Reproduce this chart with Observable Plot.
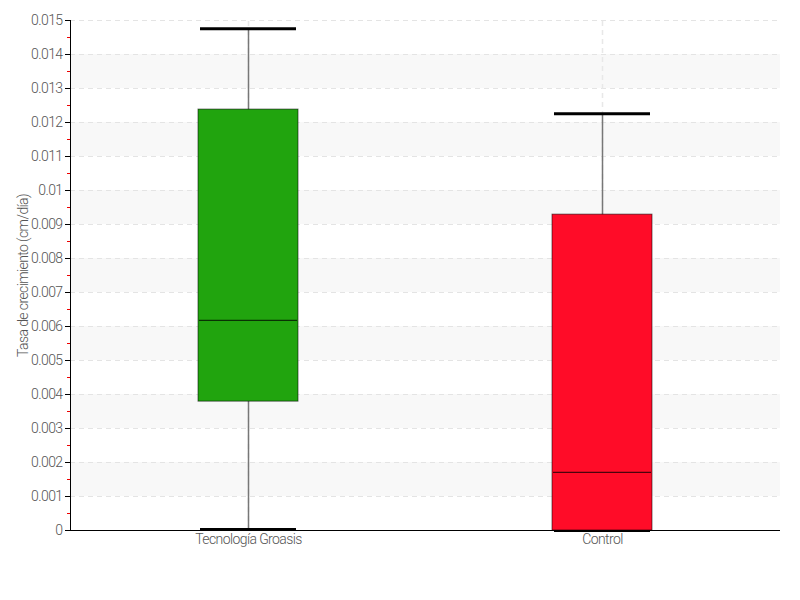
<!DOCTYPE html>
<html>
<head>
<meta charset="utf-8">
<script src="https://cdn.jsdelivr.net/npm/d3@7"></script>
<script src="https://cdn.jsdelivr.net/npm/@observablehq/plot@0.6"></script>
<style>
  html, body { margin: 0; padding: 0; background: #fff; }
  #chart { width: 800px; height: 600px; }
  #chart svg text { letter-spacing: -0.6px; }
</style>
</head>
<body>
<div id="chart"></div>
<script>
const categories = ["Tecnología Groasis", "Control"];
const whiskerLow = [0.00003, 0];
const q1 = [0.00379, 0];
const median = [0.00618, 0.00171];
const q3 = [0.01238, 0.00929];
const whiskerHigh = [0.01476, 0.01226];
const colors = ["#21a40e", "#ff0c28"];
const tickLabels = ["0", "0.001", "0.002", "0.003", "0.004", "0.005", "0.006", "0.007", "0.008", "0.009", "0.01", "0.011", "0.012", "0.013", "0.014", "0.015"];
const yLabel = "Tasa de crecimiento (cm/día)";

const ticks = tickLabels.map(Number);
const minorTicks = ticks.slice(0, -1).map((t, i) => (t + ticks[i + 1]) / 2);
const bands = ticks.slice(0, -1).map((t, i) => ({y1: t, y2: ticks[i + 1]}))
  .filter(d => (Math.round(d.y1 * 1000) % 2) === 1);
const boxes = categories.map((c, i) => ({
  cat: c, lo: whiskerLow[i], q1: q1[i], med: median[i], q3: q3[i], hi: whiskerHigh[i], color: colors[i]
}));
const caps = boxes.flatMap(d => [{cat: d.cat, v: d.lo}, {cat: d.cat, v: d.hi}]);

const font = "Roboto, 'Liberation Sans', sans-serif";

const chart = Plot.plot({
  width: 800,
  height: 600,
  marginLeft: 70,
  marginRight: 20,
  marginTop: 20,
  marginBottom: 70,
  style: {fontFamily: font, fontSize: "14px", fontWeight: 300, color: "#555", background: "#fff"},
  x: {domain: categories, paddingInner: 0.7183, paddingOuter: 0.3592, axis: null},
  y: {domain: [0, 0.015], axis: null},
  color: {type: "identity"},
  marks: [
    Plot.rectY(bands, {y1: "y1", y2: "y2", fill: "#f8f8f8"}),
    Plot.ruleY(ticks, {stroke: "#e4e4e4", strokeDasharray: "5,4"}),
    Plot.ruleX(categories, {x: d => d, y1: 0, y2: 0.015, stroke: "#e8e8e8", strokeDasharray: "5,4", strokeWidth: 1.5}),
    Plot.ruleX(boxes, {x: "cat", y1: "lo", y2: "hi", stroke: "#777", strokeWidth: 1.5}),
    Plot.tickY(caps, {x: "cat", y: "v", stroke: "#000", strokeWidth: 3, insetLeft: 2, insetRight: 2}),
    Plot.barY(boxes, {x: "cat", y1: "q1", y2: "q3", fill: "color", stroke: "#000", strokeOpacity: 0.55, strokeWidth: 1}),
    Plot.tickY(boxes, {x: "cat", y: "med", stroke: "#000", strokeOpacity: 0.7, strokeWidth: 1.2, insetLeft: 1, insetRight: 1}),
    Plot.axisY({ticks: minorTicks, tickSize: 3, stroke: "#e00", text: null, label: null}),
    Plot.axisY({ticks: ticks, tickSize: 5, stroke: "#000", tickFormat: (d, i) => tickLabels[i], fill: "#555", fontSize: 14, tickPadding: 3,
      label: yLabel, labelAnchor: "center", labelArrow: "none", labelOffset: 52}),
    Plot.axisX({tickSize: 0, tickPadding: 4, fill: "#555", fontSize: 14, label: null}),
    Plot.ruleY([0], {stroke: "#000", strokeWidth: 1}),
    Plot.frame({anchor: "left", stroke: "#000", strokeWidth: 1})
  ]
});
document.getElementById("chart").appendChild(chart);
</script>
</body>
</html>
